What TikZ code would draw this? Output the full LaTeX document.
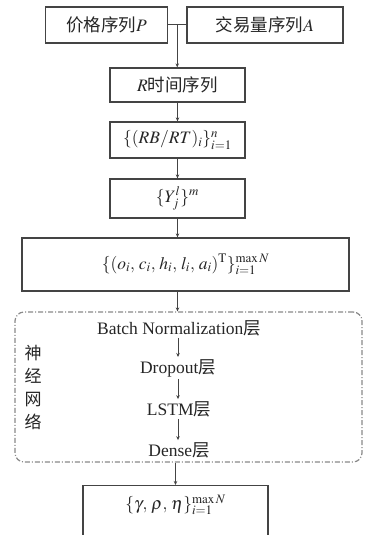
\documentclass[tikz,border=0pt]{standalone}
\usepackage{mathptmx}
\usepackage{fontspec}
\setmainfont{Liberation Serif}
\newfontfamily\cjk{Noto Sans CJK SC}
\usetikzlibrary{arrows.meta,calc}
\definecolor{ln}{HTML}{444444}
\definecolor{dl}{HTML}{8A8A8A}
\begin{document}
\begin{tikzpicture}[x=1pt,y=-1pt,
  every node/.style={font=\rmfamily\fontsize{17.5}{21}\selectfont, text=black!85},
  box/.style={draw=ln, line width=1.3pt, rectangle, inner sep=0pt, fill=white},
  arr/.style={draw=ln, line width=1pt, -{Stealth[length=4pt,width=3.5pt]}},
  ln/.style={draw=ln, line width=1pt},
  dashbox/.style={draw=dl, line width=1.2pt, dash pattern=on 5pt off 2pt on 1pt off 2pt, rounded corners=9pt, rectangle, inner sep=0pt},
  layer/.style={inner sep=2pt}]
\useasboundingbox (0,0) rectangle (365,535);
\clip (0,0) rectangle (365,535);
\fill[white] (0,0) rectangle (365,535);

\node[box, minimum width=122, minimum height=36] (b1) at (106.5,25) {{\cjk 价格序列}$P$};
\node[box, minimum width=156, minimum height=36] (b2) at (265,25) {{\cjk 交易量序列}$A$};
\node[box, minimum width=135, minimum height=34] (bR) at (177.5,85) {$R${\cjk 时间序列}};
\node[box, minimum width=135, minimum height=36] (b3) at (177.5,140) {$\{(RB/RT)_i\}_{i=1}^{n}$};
\node[box, minimum width=135, minimum height=39] (b4) at (177.5,198.5) {$\{Y_j^{l}\}^{m}$};
\node[box, minimum width=327, minimum height=53] (b5) at (185.5,264.5) {$\{(o_i,\, c_i,\, h_i,\, l_i,\, a_i)^{\mathrm{T}}\}_{i=1}^{\mathrm{max}\,N}$};

\node[dashbox, minimum width=347, minimum height=150] (nn) at (188.5,387) {};
\node[layer] (bn) at (179,328) {Batch Normalization{\cjk 层}};
\node[layer] (dp) at (178,368) {Dropout{\cjk 层}};
\node[layer] (ls) at (179,409) {LSTM{\cjk 层}};
\node[layer] (de) at (179,450) {Dense{\cjk 层}};
\node[align=center, font=\fontsize{17}{23}\selectfont\cjk] (lab) at (33,387) {神\\经\\网\\络};

\node[box, minimum width=185, minimum height=80, anchor=north] (fin) at (175.5,485) {};
\node (fint) at (175.5,505) {$\{\gamma,\, \rho,\, \eta\}_{i=1}^{\mathrm{max}\,N}$};

\coordinate (j) at ($(b1.east)!0.5!(b2.west)$);
\draw[ln] (b1.east) -- (b2.west);
\draw[arr] (j) -- (j |- bR.north);
\draw[arr] (bR.south) -- (b3.north);
\draw[arr] (b3.south) -- (b4.north);
\draw[arr] (b4.south) -- (b4.south |- b5.north);
\draw[arr] (bR.south |- b5.south) -- (bR.south |- nn.north);
\draw[arr] (bn.south -| dp.north) -- (dp.north);
\draw[arr] (dp.south) -- (dp.south |- ls.north);
\draw[arr] (dp.south |- ls.south) -- (dp.south |- de.north);
\draw[arr] (fin.north |- nn.south) -- (fin.north);
\end{tikzpicture}
\end{document}
